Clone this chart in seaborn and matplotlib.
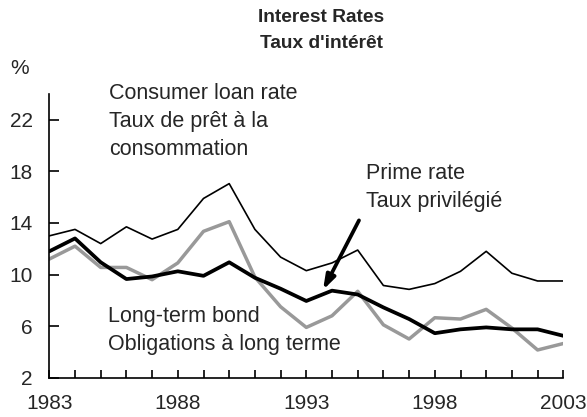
import matplotlib
matplotlib.use("Agg")
import matplotlib.pyplot as plt
import seaborn as sns
import pandas as pd
from matplotlib.ticker import MultipleLocator, FixedLocator

years = list(range(1983, 2004))
consumer_loan = [13.0, 13.5, 12.4, 13.7, 12.75, 13.5, 15.9, 17.05, 13.5, 11.35,
                 10.3, 10.9, 11.9, 9.15, 8.85, 9.3, 10.25, 11.8, 10.1, 9.5, 9.5]
thick_series = [11.8, 12.8, 10.95, 9.65, 9.85, 10.25, 9.9, 10.95, 9.75, 8.9,
                7.95, 8.75, 8.45, 7.45, 6.55, 5.45, 5.75, 5.9, 5.75, 5.75, 5.25]
grey_series = [11.2, 12.2, 10.55, 10.55, 9.6, 10.9, 13.35, 14.1, 9.8, 7.5,
               5.9, 6.8, 8.7, 6.1, 5.0, 6.65, 6.55, 7.3, 5.85, 4.15, 4.65]
x_labels = [1983, 1988, 1993, 1998, 2003]
y_ticks = [2, 6, 10, 14, 18, 22]

df = pd.DataFrame({"year": years, "consumer": consumer_loan,
                   "thick": thick_series, "grey": grey_series})

sns.set_style("white")
plt.rcParams["font.family"] = ["Liberation Sans", "DejaVu Sans"]

fig = plt.figure(figsize=(5.87, 4.17), dpi=100)
ax = fig.add_axes([49.3 / 587, (417 - 377.7) / 417, (563.3 - 49.3) / 587, (377.7 - 94) / 417])

sns.lineplot(data=df, x="year", y="consumer", ax=ax, color="black", linewidth=1.2)
sns.lineplot(data=df, x="year", y="grey", ax=ax, color="#999999", linewidth=2.5)
sns.lineplot(data=df, x="year", y="thick", ax=ax, color="black", linewidth=2.7)

ax.set_xlim(1983, 2003)
ax.set_ylim(2, 24)
ax.set_xlabel("")
ax.set_ylabel("")
ax.xaxis.set_major_locator(FixedLocator(x_labels))
ax.xaxis.set_minor_locator(MultipleLocator(1))
ax.yaxis.set_major_locator(FixedLocator(y_ticks))
ax.tick_params(axis="x", which="both", direction="in", length=6, width=1.2,
               labelsize=15, pad=12, bottom=True, color="black")
ax.tick_params(axis="y", which="major", direction="in", length=7, width=1.2,
               labelsize=15, pad=12, left=True, color="black")
for side in ("top", "right"):
    ax.spines[side].set_visible(False)
for side in ("left", "bottom"):
    ax.spines[side].set_color("black")
    ax.spines[side].set_linewidth(1.2)

ax.text(1985.33, 21.87, "Consumer loan rate\nTaux de prêt à la\nconsommation",
        fontsize=15.5, va="center", ha="left", linespacing=1.42)
ax.text(1995.32, 16.75, "Prime rate\nTaux privilégié",
        fontsize=15.5, va="center", ha="left", linespacing=1.42)
ax.text(1985.3, 5.65, "Long-term bond\nObligations à long terme",
        fontsize=15.5, va="center", ha="left", linespacing=1.42)

ax.annotate("", xy=(1993.65, 8.8), xytext=(1995.05, 14.2),
            arrowprops=dict(arrowstyle="-|>,head_length=0.85,head_width=0.28",
                            color="black", lw=2.7, shrinkA=0, shrinkB=0))

fig.text(321 / 587, 1 - 18 / 417, "Interest Rates", fontsize=13.8,
         fontweight="bold", ha="center", va="center")
fig.text(321 / 587, 1 - 43 / 417, "Taux d'intérêt", fontsize=13.8,
         fontweight="bold", ha="center", va="center")
fig.text(20 / 587, 1 - 68 / 417, "%", fontsize=15, ha="center", va="center")

fig.savefig("out.png", dpi=100)
